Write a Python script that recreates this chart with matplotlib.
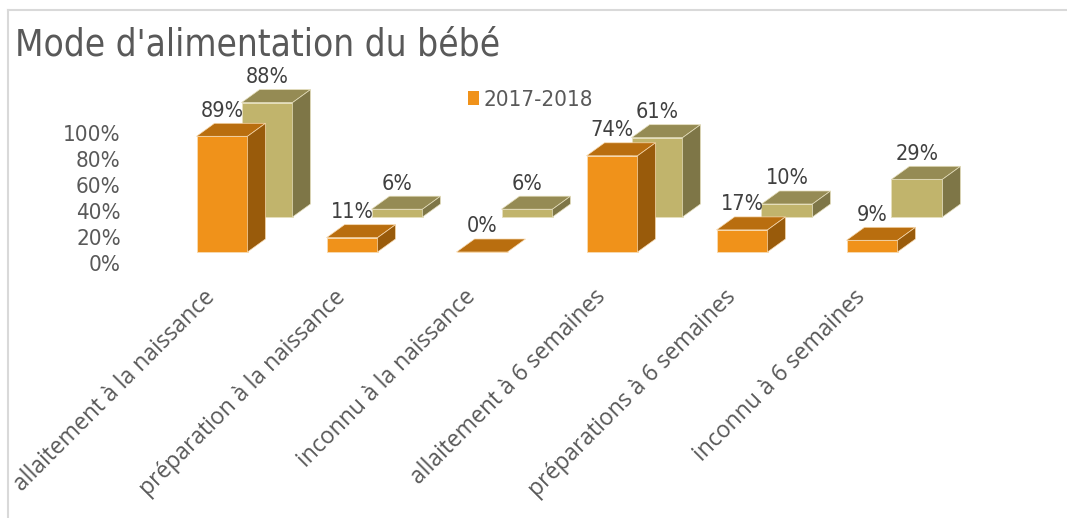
import matplotlib
matplotlib.use("Agg")
import matplotlib.pyplot as plt
from matplotlib.patches import Polygon, Patch
from matplotlib.lines import Line2D
from matplotlib.font_manager import FontProperties

# data
categories = [
    "allaitement à la naissance",
    "préparation à la naissance",
    "inconnu à la naissance",
    "allaitement à 6 semaines",
    "préparations à 6 semaines",
    "inconnu à 6 semaines",
]
front_series = [89, 11, 0, 74, 17, 9]      # 2017-2018
back_series = [88, 6, 6, 61, 10, 29]
front_label = "2017-2018"
y_ticks = [0, 20, 40, 60, 80, 100]

W, H = 1067, 518
COND = dict(family="DejaVu Sans", fontstretch="condensed")
TXT = "#595959"

# pixel geometry of the fake 3d box
X0, STEP = 222, 130          # centre of first front bar, spacing
Y0, PX_PER = 263, 1.3        # pixel of 0 %, pixels per %
AX_L, AX_R, AX_T = 125, 1000, 68

W_BAR = 51 / STEP
DX, DY = 18 / STEP, 13 / PX_PER
OFF_BACK = 45 / STEP
LABEL_OFF = -10 / STEP       # category labels sit a bit left of the bars
BASE_FRONT = (Y0 - 252) / PX_PER
BASE_BACK = (Y0 - 217) / PX_PER

fig = plt.figure(figsize=(W / 100, H / 100), dpi=100)
ax = fig.add_axes([AX_L / W, (H - Y0) / H, (AX_R - AX_L) / W, (Y0 - AX_T) / H])
ax.set_xlim((AX_L - X0) / STEP, (AX_R - X0) / STEP)
ax.set_ylim(0, (Y0 - AX_T) / PX_PER)


def draw_series(xs, vals, base, cols, edge, z):
    front, top, side = cols
    ax.bar(xs, vals, width=W_BAR, bottom=base, color=front,
           edgecolor=edge, linewidth=0.7, zorder=z)
    for x, v in zip(xs, vals):
        l, r, t = x - W_BAR / 2, x + W_BAR / 2, base + v
        ax.add_patch(Polygon([(l, t), (r, t), (r + DX, t + DY), (l + DX, t + DY)],
                             closed=True, facecolor=top, edgecolor=edge,
                             linewidth=0.5, zorder=z))
        if v > 0:
            ax.add_patch(Polygon([(r, base), (r + DX, base + DY),
                                  (r + DX, t + DY), (r, t)],
                                 closed=True, facecolor=side, edgecolor=edge,
                                 linewidth=0.5, zorder=z))
        ax.text(x, t + DY + 2, f"{v}%", ha="center", va="bottom",
                fontsize=15.5, color="#404040", zorder=z + 1, **COND)


xs = list(range(len(categories)))
draw_series([x + OFF_BACK for x in xs], back_series, BASE_BACK,
            ("#C1B46C", "#958B54", "#7E7647"), "#E6DFBC", 2)
draw_series(xs, front_series, BASE_FRONT,
            ("#F0921A", "#B96E0F", "#995B0B"), "#F8D9AE", 4)

ax.set_yticks(y_ticks)
ax.set_yticklabels([f"{t}%" for t in y_ticks], fontsize=16, color=TXT, **COND)
ax.set_xticks([x + LABEL_OFF for x in xs])
ax.set_xticklabels(categories, rotation=45, ha="right", va="center",
                   rotation_mode="anchor", family="Open Sans",
                   fontsize=16.5, color=TXT)
ax.tick_params(axis="both", length=0)
ax.tick_params(axis="x", pad=22)
ax.tick_params(axis="y", pad=3)
for s in ax.spines.values():
    s.set_visible(False)
ax.patch.set_visible(False)

fig.text(15 / W, 1 - 55 / H, "Mode d'alimentation du bébé",
         fontsize=26.5, color=TXT, ha="left", va="baseline", **COND)

fig.legend(handles=[Patch(facecolor="#F0921A", label=front_label)],
           loc="upper left", bbox_to_anchor=(448 / W, 1 - 70 / H),
           frameon=False, handlelength=0.5, handleheight=0.55,
           handletextpad=0.2,
           prop=FontProperties(family="DejaVu Sans", stretch="condensed", size=16),
           labelcolor=TXT)

# chart frame
fig.add_artist(Line2D([8 / W, 1], [1 - 10 / H, 1 - 10 / H], color="#D9D9D9",
                      linewidth=1.5, transform=fig.transFigure))
fig.add_artist(Line2D([8 / W, 8 / W], [0, 1 - 10 / H], color="#D9D9D9",
                      linewidth=1.5, transform=fig.transFigure))

fig.savefig("out.png", dpi=100)
